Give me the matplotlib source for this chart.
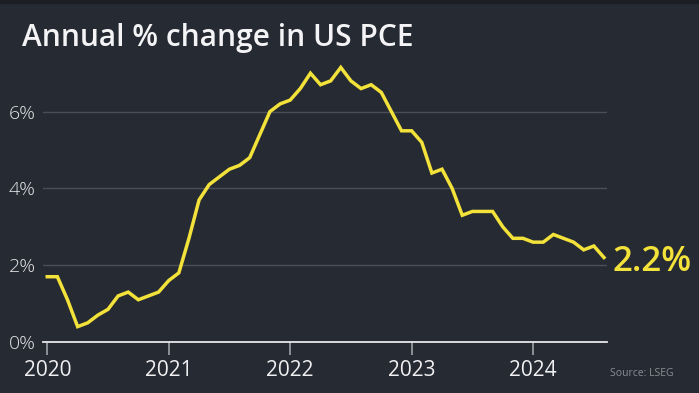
import matplotlib
matplotlib.use("Agg")
import matplotlib.pyplot as plt
import numpy as np

# Data: monthly annual % change in US PCE, Jan 2020 - Aug 2024
pce_2020 = [1.7, 1.7, 1.1, 0.4, 0.5, 0.7, 0.85, 1.2, 1.3, 1.1, 1.2, 1.3]
pce_2021 = [1.6, 1.8, 2.7, 3.7, 4.1, 4.3, 4.5, 4.6, 4.8, 5.4, 6.0, 6.2]
pce_2022 = [6.3, 6.6, 7.0, 6.7, 6.8, 7.15, 6.8, 6.6, 6.7, 6.5, 6.0, 5.5]
pce_2023 = [5.5, 5.2, 4.4, 4.5, 4.0, 3.3, 3.4, 3.4, 3.4, 3.0, 2.7, 2.7]
pce_2024 = [2.6, 2.6, 2.8, 2.7, 2.6, 2.4, 2.5, 2.2]
values = pce_2020 + pce_2021 + pce_2022 + pce_2023 + pce_2024
years = ["2020", "2021", "2022", "2023", "2024"]
y_ticks = [0, 2, 4, 6]
y_labels = ["0%", "2%", "4%", "6%"]
title = "Annual % change in US PCE"
last_label = "2.2%"
source = "Source: LSEG"

BG = "#262a33"
YEL = "#f2e23a"

W, H = 699, 393
fig = plt.figure(figsize=(W / 100, H / 100), dpi=100, facecolor=BG)
fig.patches.append(plt.Rectangle((0, 1 - 3 / H), 1, 3 / H, transform=fig.transFigure,
                                 color="#1b1e25", zorder=0))

left, right, bottom, top = 43, 607, 342, 54
ax = fig.add_axes([left / W, 1 - bottom / H, (right - left) / W, (bottom - top) / H])
ax.set_facecolor(BG)

months = np.arange(len(values))
ax.plot(months, values, color=YEL, lw=2.5, solid_joinstyle="miter", zorder=3)

ax.set_xlim(-0.42, 55.3)
ax.set_ylim(0, 7.5)

for s in ["top", "right", "left"]:
    ax.spines[s].set_visible(False)
ax.spines["bottom"].set_color("#e8e8ea")
ax.spines["bottom"].set_linewidth(1.3)

ax.set_yticks(y_ticks)
ax.set_yticklabels(y_labels)
ax.tick_params(axis="y", length=0, pad=5, labelsize=14, labelcolor="#e6e6e8")
for t in ax.get_yticklabels():
    t.set_fontfamily("Open Sans")
    t.set_fontweight("light")
ax.yaxis.grid(True, color="#4a4e57", lw=1.0)
ax.set_axisbelow(True)

ax.set_xticks([0, 12, 24, 36, 48])
ax.set_xticklabels(years)
ax.tick_params(axis="x", length=9, width=1.2, color="#a0a2a8", pad=4,
               labelsize=15, labelcolor="#f0f0f2")
for t in ax.get_xticklabels():
    t.set_fontfamily("Open Sans")

ax.annotate(last_label, xy=(months[-1], values[-1]), xytext=(6, -3),
            textcoords="offset points", ha="left", va="center",
            color=YEL, fontsize=25, fontweight="semibold", family="Open Sans")

fig.text(22 / W, 1 - 38 / H, title, color="#f4f4f6", fontsize=21.5,
         fontweight="semibold", family="Open Sans", ha="left", va="center")
fig.text(610 / W, 1 - 373 / H, source, color="#8a8d94", fontsize=7.5,
         family="Open Sans", ha="left", va="center")

fig.savefig("out.png", dpi=100, facecolor=BG)
